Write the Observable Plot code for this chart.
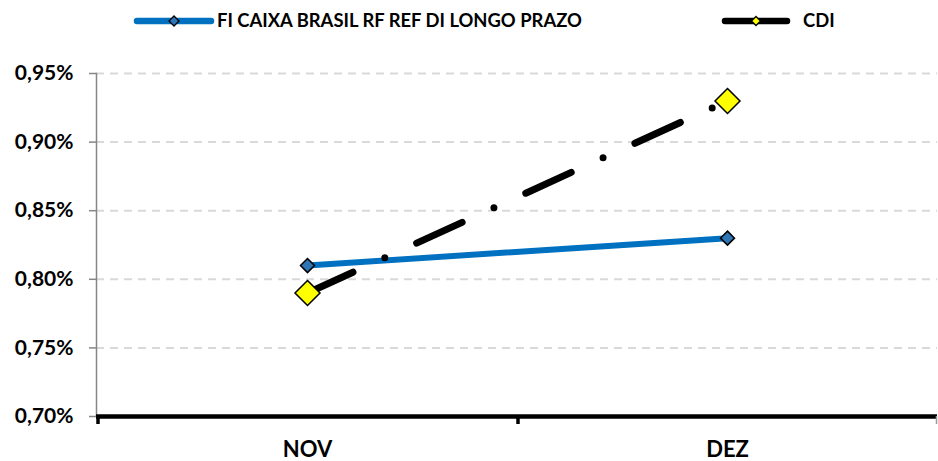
<!DOCTYPE html>
<html>
<head>
<meta charset="utf-8">
<script src="https://cdn.jsdelivr.net/npm/d3@7"></script>
<script src="https://cdn.jsdelivr.net/npm/@observablehq/plot@0.6"></script>
<style>
  html, body { margin: 0; padding: 0; background: #fff; }
  #chart { width: 938px; font-family: Lato, "Liberation Sans", sans-serif; }
  #legend { position: relative; width: 938px; height: 40px; }
  .lg-item { position: absolute; top: 0; height: 40px; display: flex; align-items: center; }
  .lg-item span { font-weight: bold; font-size: 18.4px; color: #000; white-space: nowrap; }
</style>
</head>
<body>
<div id="chart">
  <div id="legend"></div>
  <div id="plot"></div>
</div>
<script>
// ---- data ----
const months = ["NOV", "DEZ"];
const seriesNames = ["FI CAIXA BRASIL RF REF DI LONGO PRAZO", "CDI"];
const fiValues = [0.81, 0.83];
const cdiValues = [0.79, 0.93];
const yTicks = [0.70, 0.75, 0.80, 0.85, 0.90, 0.95];

// ---- derived tables ----
const fi = months.map((m, i) => ({month: m, value: fiValues[i]}));
const cdi = months.map((m, i) => ({month: m, value: cdiValues[i]}));
const fmt = d => d.toFixed(2).replace(".", ",") + "%";

// square diamond symbol; r = half diagonal
const diamond = {
  draw(context, size) {
    const h = Math.sqrt(size / Math.PI);
    context.moveTo(0, -h);
    context.lineTo(h, 0);
    context.lineTo(0, h);
    context.lineTo(-h, 0);
    context.closePath();
  }
};

// boundary ticks on the category axis
function bandTicks(index, scales, values, dimensions) {
  const x = scales.x;
  const bw = x.bandwidth ? x.bandwidth() : (dimensions.width - dimensions.marginLeft - dimensions.marginRight) / months.length;
  const y0 = scales.y(yTicks[0]);
  const edges = months.map(m => x(m)).concat([x(months[months.length - 1]) + bw]);
  const g = d3.create("svg:g");
  edges.forEach((e, i) => {
    const last = i === edges.length - 1;
    g.append("line")
      .attr("x1", last ? e - 0.5 : e + 1).attr("x2", last ? e - 0.5 : e + 1)
      .attr("y1", y0).attr("y2", y0 + 8)
      .attr("stroke", last ? "#9a9a9a" : "#000")
      .attr("stroke-width", last ? 1.5 : 3.5);
  });
  return g.node();
}

const plot = Plot.plot({
  width: 938,
  height: 421,
  marginLeft: 96,
  marginRight: 1,
  marginTop: 33,
  marginBottom: 45,
  style: {fontFamily: "Lato, 'Liberation Sans', sans-serif", background: "#fff", overflow: "visible"},
  x: {type: "band", domain: months, padding: 0, axis: null, label: null},
  y: {domain: [yTicks[0], yTicks[yTicks.length - 1]], axis: null, label: null},
  marks: [
    Plot.gridY(yTicks.slice(1), {stroke: "#D9D9D9", strokeOpacity: 1, strokeWidth: 2, strokeDasharray: "8,6"}),
    Plot.frame({anchor: "left", stroke: "#868686", strokeWidth: 1.5}),
    Plot.axisY(yTicks, {
      anchor: "left", label: null, tickSize: 7, tickPadding: 16, stroke: "#868686", strokeWidth: 1.5,
      tickFormat: fmt, fontSize: 21, fontWeight: "bold", fill: "#000"
    }),
    Plot.axisX(months, {
      anchor: "bottom", label: null, tickSize: 0, tickPadding: 25, fontSize: 22, fontWeight: "bold", fill: "#000"
    }),
    Plot.ruleY([yTicks[0]], {stroke: "#000", strokeWidth: 4.5}),
    bandTicks,
    Plot.line(fi, {x: "month", y: "value", stroke: "#0070C0", strokeWidth: 6}),
    Plot.line(cdi, {x: "month", y: "value", stroke: "#000", strokeWidth: 7,
      strokeDasharray: "50,35,0,35", strokeLinecap: "round"}),
    Plot.dot(fi, {x: "month", y: "value", symbol: diamond, r: 7, fill: "#2E75B6", stroke: "#000", strokeWidth: 1.5}),
    Plot.dot(cdi, {x: "month", y: "value", symbol: diamond, r: 12.5, fill: "#FFFF00", stroke: "#000", strokeWidth: 1.5})
  ]
});
document.getElementById("plot").appendChild(plot);

// ---- legend ----
const legendSpec = [
  {name: seriesNames[0], left: 137, len: 74, gap: 2, stroke: "#0070C0", fill: "#2E75B6", mark: 5},
  {name: seriesNames[1], left: 725, len: 62, gap: 12, stroke: "#000", fill: "#FFFF00", mark: 4.5}
];
const legend = d3.select("#legend");
legendSpec.forEach(s => {
  const item = legend.append("div").attr("class", "lg-item").style("left", (s.left - 4) + "px");
  const svg = item.append("svg").attr("width", s.len + 8).attr("height", 40);
  svg.append("line").attr("x1", 4).attr("x2", 4 + s.len).attr("y1", 21).attr("y2", 21)
    .attr("stroke", s.stroke).attr("stroke-width", 6.5).attr("stroke-linecap", "round");
  const cx = 4 + s.len / 2;
  svg.append("path")
    .attr("d", `M${cx},${21 - s.mark}L${cx + s.mark},21L${cx},${21 + s.mark}L${cx - s.mark},21Z`)
    .attr("fill", s.fill).attr("stroke", "#000").attr("stroke-width", 1.3);
  item.append("span").style("margin-left", s.gap + "px").text(s.name);
});
</script>
</body>
</html>
